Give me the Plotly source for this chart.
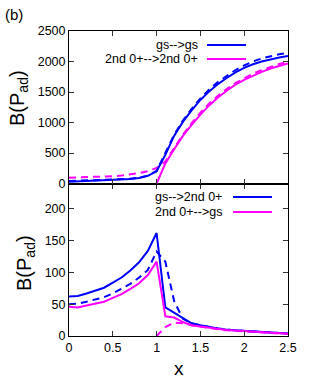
import plotly.graph_objects as go

# ---- data ----
x_top = [0, 0.1, 0.2, 0.3, 0.4, 0.5, 0.6, 0.7, 0.8, 0.9, 1.0, 1.1, 1.2, 1.3, 1.4, 1.5,
         1.6, 1.7, 1.8, 1.9, 2.0, 2.1, 2.2, 2.3, 2.4, 2.5]
gs_gs_solid = [30, 35, 40, 45, 50, 55, 62, 72, 90, 125, 200, 470, 780, 1010, 1200, 1370,
               1510, 1630, 1730, 1820, 1895, 1955, 2000, 2035, 2065, 2090]
gs_gs_dash = [40, 44, 48, 52, 56, 61, 68, 78, 96, 130, 205, 500, 800, 1030, 1225, 1395,
              1540, 1665, 1770, 1860, 1935, 2000, 2050, 2090, 2120, 2143]
x_top_m = [1.0, 1.1, 1.2, 1.3, 1.4, 1.5, 1.6, 1.7, 1.8, 1.9, 2.0, 2.1, 2.2, 2.3, 2.4, 2.5]
o2_o2_solid = [0, 330, 560, 780, 960, 1130, 1280, 1410, 1520, 1620, 1700, 1770, 1830,
               1885, 1930, 1968]
o2_o2_dash = [95, 98, 102, 107, 113, 120, 130, 145, 170, 200, 255, 360, 580, 800, 990, 1160,
              1310, 1440, 1550, 1645, 1725, 1800, 1860, 1915, 1960, 1997]

x_bot = x_top
gs_o2_solid = [62, 63, 67, 71, 76, 84, 92, 103, 116, 134, 162, 45, 37, 28, 20, 17,
               14, 12, 10, 9, 8, 7, 6, 5, 4.5, 4]
gs_o2_dash = [50, 51, 54, 57, 61, 67, 74, 82, 92, 104, 133, 117, 55, 27, 20, 16.5,
              14, 12, 10, 9, 8, 7, 6, 5, 4.5, 4]
o2_gs_solid = [46, 45, 48, 51, 54, 60, 66, 74, 83, 96, 117, 31, 29, 22, 17, 15,
               13, 11, 9.5, 8.5, 7.5, 6.5, 5.5, 4.8, 4.2, 3.7]
x_bot_m = [1.0, 1.1, 1.2, 1.3, 1.4, 1.5, 1.6, 1.7, 1.8, 1.9, 2.0, 2.1, 2.2, 2.3, 2.4, 2.5]
o2_gs_dash = [0, 14, 21, 20, 17, 14.5, 12.5, 10.5, 9, 8, 7, 6.2, 5.3, 4.6, 4, 3.5]

top_labels = ["gs-->gs", "2nd 0+-->2nd 0+"]
bot_labels = ["gs-->2nd 0+", "2nd 0+-->gs"]

BLUE = "#0000ff"
MAG = "#ff00ff"
FONT = "Liberation Sans"
DASH = "7px,5px"

fig = go.Figure()

def add(x, y, color, dash, xa, ya):
    fig.add_trace(go.Scatter(x=x, y=y, mode="lines", xaxis=xa, yaxis=ya,
                             line=dict(color=color, width=2, dash=dash),
                             showlegend=False, hoverinfo="skip"))

add(x_top, gs_gs_dash, BLUE, DASH, "x2", "y2")
add(x_top, o2_o2_dash, MAG, DASH, "x2", "y2")
add(x_top, gs_gs_solid, BLUE, "solid", "x2", "y2")
add(x_top_m, o2_o2_solid, MAG, "solid", "x2", "y2")

add(x_bot, gs_o2_dash, BLUE, DASH, "x", "y")
add(x_bot_m, o2_gs_dash, MAG, DASH, "x", "y")
add(x_bot, gs_o2_solid, BLUE, "solid", "x", "y")
add(x_bot, o2_gs_solid, MAG, "solid", "x", "y")

W, H = 313, 382
L, R, T, B = 69, 25, 31, 46
pw, ph = W - L - R, H - T - B

def px(xp):
    return (xp - L) / pw

def py(yp):
    return (H - B - yp) / ph

axis_common = dict(showline=True, linecolor="black", linewidth=1, mirror="allticks",
                   ticks="inside", ticklen=5, tickcolor="#333", tickwidth=1,
                   showgrid=False, zeroline=False,
                   tickfont=dict(family=FONT, size=12.5, color="black"))

fig.update_layout(
    width=W, height=H,
    margin=dict(l=L, r=R, t=T, b=B),
    plot_bgcolor="white", paper_bgcolor="white",
    xaxis=dict(domain=[0, 1], anchor="y", range=[0, 2.5], dtick=0.5, **axis_common),
    yaxis=dict(domain=[0, 0.5], anchor="x", range=[0, 240], dtick=50, **axis_common),
    xaxis2=dict(domain=[0, 1], anchor="y2", range=[0, 2.5], dtick=0.5, matches="x",
                showticklabels=False, **axis_common),
    yaxis2=dict(domain=[0.5, 1], anchor="x2", range=[0, 2500], dtick=500, **axis_common),
    showlegend=False,
)

ann = []
# panel label
ann.append(dict(text="(b)", x=px(3), y=py(14), xref="paper", yref="paper",
                xanchor="left", yanchor="middle", showarrow=False,
                font=dict(family=FONT, size=15, color="black")))
# y titles
for xc, yc in ((18, 98), (25, 263)):
    ann.append(dict(text="B(P<sub>ad</sub>)", x=px(xc), y=py(yc), xref="paper", yref="paper",
                    xanchor="center", yanchor="middle", textangle=-90, showarrow=False,
                    font=dict(family=FONT, size=20, color="black")))
# x title
ann.append(dict(text="x", x=0.5, y=py(368), xref="paper", yref="paper",
                xanchor="center", yanchor="middle", showarrow=False,
                font=dict(family=FONT, size=19, color="black")))

shapes = []
# legends (gnuplot style: text right, sample line to the right)
for labels, colors, xs, ys, xl0, xl1 in (
        (top_labels, (BLUE, MAG), 200, (45, 59), 207, 246),
        (bot_labels, (BLUE, MAG), 224, (197, 212), 233, 272)):
    for lab, col, yy in zip(labels, colors, ys):
        ann.append(dict(text=lab, x=px(xs), y=py(yy), xref="paper", yref="paper",
                        xanchor="right", yanchor="middle", showarrow=False,
                        font=dict(family=FONT, size=12.5, color="black")))
        shapes.append(dict(type="line", xref="paper", yref="paper",
                           x0=px(xl0), x1=px(xl1), y0=py(yy), y1=py(yy),
                           line=dict(color=col, width=2)))

fig.update_layout(annotations=ann, shapes=shapes)
fig.write_html("out.html", config={"displayModeBar": False},
               post_script="document.body.style.margin='0';")
